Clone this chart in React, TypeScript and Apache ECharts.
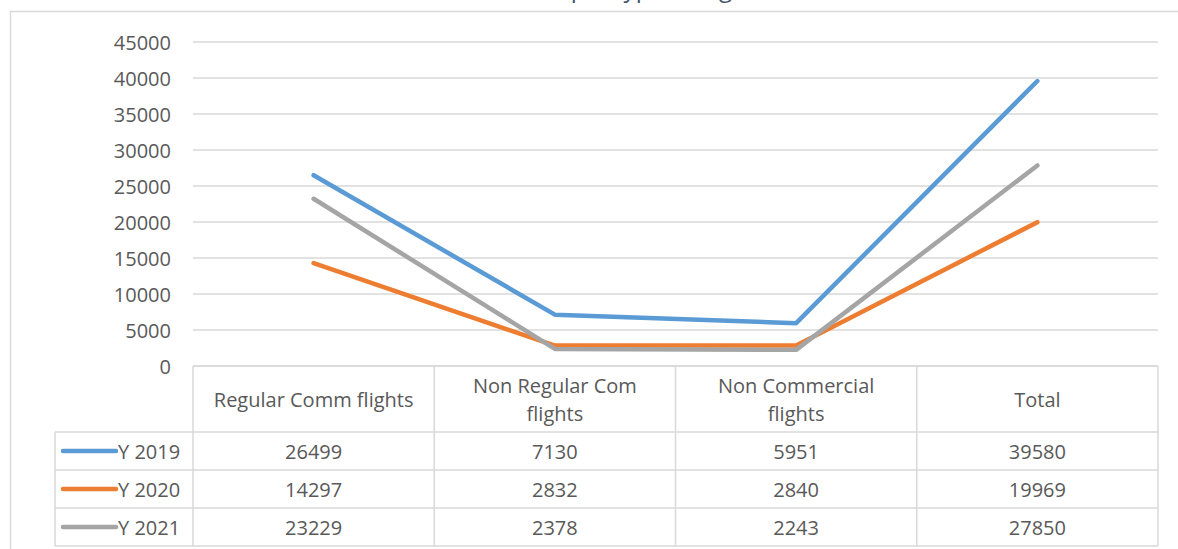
import React, { useEffect, useRef } from "react";
import * as echarts from "echarts";

const categories = ["Regular Comm flights", "Non Regular Com flights", "Non Commercial flights", "Total"];
const headerLabels = ["Regular Comm flights", "Non Regular Com\nflights", "Non Commercial\nflights", "Total"];
const seriesNames = ["Y 2019", "Y 2020", "Y 2021"];
const y2019 = [26499, 7130, 5951, 39580];
const y2020 = [14297, 2832, 2840, 19969];
const y2021 = [23229, 2378, 2243, 27850];
const seriesValues = [y2019, y2020, y2021];
const colors = ["#5B9BD5", "#ED7D31", "#A5A5A5"];
const yMin = 0;
const yMax = 45000;
const yInterval = 5000;
const titleText = "Movements per type of flight";

export default function App() {
  const ref = useRef<HTMLDivElement>(null);
  useEffect(() => {
    const chart = echarts.init(ref.current!, null, { renderer: "svg" });
    const L = 193, R = 1158, T = 42, B = 366;
    const H = 549;
    const colW = (R - L) / categories.length;
    const headerH = 66, rowH = 38;
    const legendL = 55;
    const gridColor = "#D9D9D9";
    const textColor = "#595959";
    const font = "'Open Sans', sans-serif";
    const fs = 20;
    const g: any[] = [];
    // outer frame
    g.push({ type: "rect", silent: true, z: -10, shape: { x: 10.5, y: 11.5, width: 1300, height: 800 }, style: { fill: "none", stroke: gridColor, lineWidth: 1.5 } });
    // title (cut off at top in the reference)
    g.push({ type: "text", x: 594, y: -1, silent: true, style: { text: titleText, fontSize: 24, fontFamily: font, fill: "#44546A", align: "center", verticalAlign: "bottom" } });
    const line = (x1: number, y1: number, x2: number, y2: number) =>
      g.push({ type: "line", silent: true, shape: { x1, y1, x2, y2 }, style: { stroke: gridColor, lineWidth: 1.5 } });
    const tableBottom = B + headerH + rowH * seriesNames.length;
    line(L, B, R, B);
    for (let k = 0; k <= seriesNames.length; k++) {
      line(legendL, B + headerH + rowH * k, R, B + headerH + rowH * k);
    }
    line(legendL, B + headerH, legendL, tableBottom);
    for (let i = 0; i <= categories.length; i++) {
      line(L + i * colW, B, L + i * colW, tableBottom);
    }
    headerLabels.forEach((lab, i) => {
      g.push({ type: "text", silent: true, x: L + (i + 0.5) * colW, y: B + headerH / 2, style: { text: lab, fontSize: fs, fontFamily: font, fill: textColor, align: "center", verticalAlign: "middle", lineHeight: 28 } });
    });
    seriesNames.forEach((name, r) => {
      const cy = B + headerH + rowH * (r + 0.5);
      g.push({ type: "line", silent: true, shape: { x1: 63, y1: cy, x2: 116, y2: cy }, style: { stroke: colors[r], lineWidth: 4.5, lineCap: "round" } });
      g.push({ type: "text", silent: true, x: 118, y: cy, style: { text: name, fontSize: fs, fontFamily: font, fill: textColor, align: "left", verticalAlign: "middle" } });
      seriesValues[r].forEach((v, i) => {
        g.push({ type: "text", silent: true, x: L + (i + 0.5) * colW, y: cy, style: { text: String(v), fontSize: fs, fontFamily: font, fill: textColor, align: "center", verticalAlign: "middle" } });
      });
    });

    chart.setOption({
      animation: false,
      grid: { left: L, right: 1178 - R, top: T, bottom: H - B, containLabel: false },
      xAxis: {
        type: "category",
        data: categories,
        boundaryGap: true,
        axisLine: { show: false },
        axisTick: { show: false },
        axisLabel: { show: false },
        splitLine: { show: false },
      },
      yAxis: {
        type: "value",
        min: yMin,
        max: yMax,
        interval: yInterval,
        axisLine: { show: false },
        axisTick: { show: false },
        axisLabel: { color: textColor, fontSize: fs, fontFamily: font, margin: 22, formatter: (v: number) => String(v) },
        splitLine: { lineStyle: { color: gridColor, width: 1.5 } },
      },
      series: seriesNames.map((name, r) => ({
        name,
        type: "line",
        data: seriesValues[r],
        showSymbol: false,
        symbol: "none",
        lineStyle: { color: colors[r], width: 4.5, cap: "round", join: "round" },
        itemStyle: { color: colors[r] },
      })),
      graphic: g,
    });
    return () => chart.dispose();
  }, []);
  return <div ref={ref} style={{ position: "absolute", left: 0, top: 0, width: 1178, height: 549, background: "#fff" }} />;
}
